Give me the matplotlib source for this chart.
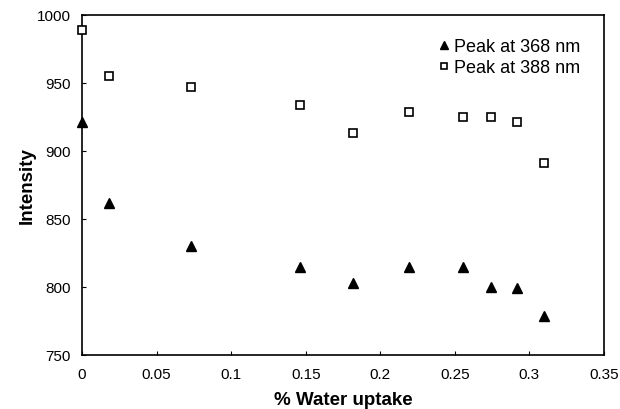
import matplotlib
matplotlib.use("Agg")
import matplotlib.pyplot as plt

plt.rcParams["font.family"] = ["Liberation Sans", "DejaVu Sans"]

# water uptake (%) and peak intensities
uptake = [0, 0.018, 0.073, 0.146, 0.182, 0.219, 0.2555, 0.274, 0.292, 0.310]
peak_368 = [921, 862, 830, 815, 803, 815, 815, 800, 799, 779]
peak_388 = [989, 955, 947, 934, 913, 929, 925, 925, 921, 891]

fig = plt.figure(figsize=(6.2, 4.1), dpi=100)
ax = fig.add_axes([82/620, 1 - 356/410, 522/620, 340/410])

ax.plot(uptake, peak_368, ls="none", marker="^", ms=7, mfc="k", mec="k",
        label="Peak at 368 nm", clip_on=False, zorder=3)
ax.plot(uptake, peak_388, ls="none", marker="s", ms=6, mfc="white", mec="k",
        mew=1.2, label="Peak at 388 nm", clip_on=False, zorder=3)

ax.set_xlim(0, 0.35)
ax.set_ylim(750, 1000)
ax.set_xticks([0, 0.05, 0.1, 0.15, 0.2, 0.25, 0.3, 0.35])
ax.set_xticklabels(["0", "0.05", "0.1", "0.15", "0.2", "0.25", "0.3", "0.35"])
ax.set_yticks([750, 800, 850, 900, 950, 1000])
ax.tick_params(direction="in", length=3, width=0.8, labelsize=11)
ax.tick_params(axis="x", pad=9)
ax.tick_params(axis="y", pad=8)
for s in ax.spines.values():
    s.set_linewidth(1.2)

ax.set_xlabel("% Water uptake", fontsize=13.5, fontweight="bold", labelpad=6.5)
ax.set_ylabel("Intensity", fontsize=13.5, fontweight="bold", labelpad=1)

ax.legend(loc="upper right", frameon=False, fontsize=13, numpoints=1,
          markerscale=0.8, handlelength=0.5, handletextpad=0.3,
          bbox_to_anchor=(0.985, 0.98), labelspacing=0.22)

fig.savefig("out.png", dpi=100)
